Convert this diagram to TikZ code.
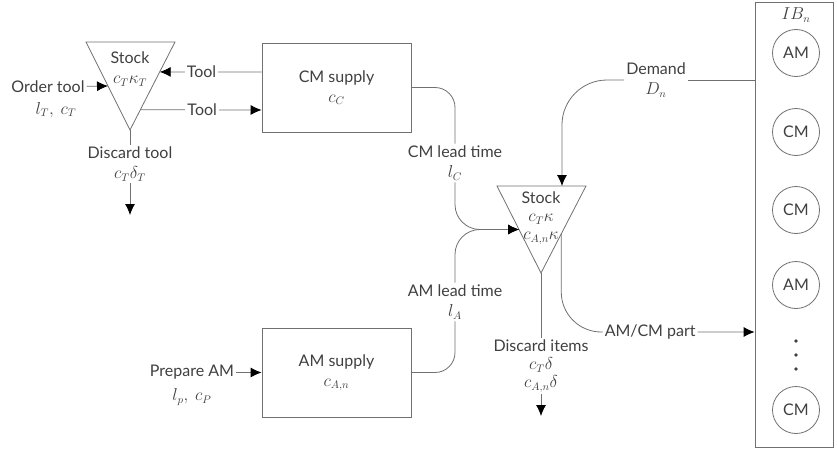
\documentclass[tikz,border=0pt]{standalone}
\usepackage{fontspec}
\setmainfont{Lato}
\usetikzlibrary{arrows.meta,calc}

\definecolor{linegray}{HTML}{707070}
\definecolor{textgray}{HTML}{404040}

\tikzset{
    >={Latex[length=11pt,width=10pt,black]},
    flow/.style={draw=linegray, line width=0.8pt},
    supply/.style={draw=linegray, line width=0.8pt, minimum width=149pt, minimum height=89pt, align=center},
    lbl/.style={align=center, inner sep=2pt},
    unit/.style={circle, draw=linegray, line width=0.8pt, minimum size=47pt, inner sep=0pt},
}

\begin{document}
\begin{tikzpicture}[x=1pt, y=-1pt, font=\fontsize{16}{20}\selectfont, text=textgray]
    \useasboundingbox (0,0) rectangle (837,452);

    % tool stock
    \coordinate (s1l) at (86,42);
    \coordinate (s1r) at (175,42);
    \coordinate (s1b) at (130,130);
    \draw[flow] (s1l) -- (s1r) -- (s1b) -- cycle;
    \node[lbl] (s1name) at (130,69) {Stock\\$c_T\kappa_T$};

    % part stock
    \coordinate (s2l) at (497,186);
    \coordinate (s2r) at (586,186);
    \coordinate (s2b) at (541,273);
    \draw[flow] (s2l) -- (s2r) -- (s2b) -- cycle;
    \node[lbl] (s2name) at (541,218) {Stock\\[-2pt]$c_T\kappa$\\[-2pt]$c_{A,n}\kappa$};
    \coordinate (s2in) at ($(s2l)!0.5!(s2b)$);

    % supply boxes
    \node[supply] (cm) at (336.5,87.5) {CM supply\\$c_C$};
    \node[supply] (am) at (336.5,372.5) {AM supply\\$c_{A,n}$};

    % installed base
    \node[draw=linegray, line width=0.8pt, minimum width=78pt, minimum height=445pt] (ib) at (794,224.5) {};
    \node[lbl] (ibname) at (796,15) {$IB_n$};
    \foreach \y/\kind [count=\i] in {53/AM,132/CM,210/CM,285/AM,410/CM}
        \node[unit] (u\i) at (796,\y) {\kind};
    \foreach \y in {341,355,369}
        \fill[textgray] (796,\y) circle[radius=1.8pt];

    % tools in and out
    \node[lbl] (ordtool) at (48,87) {Order tool};
    \node[lbl] (ordcost) at (56,110) {$l_T,\ c_T$};
    \draw[flow,->] (ordtool) -- ($(s1l)!0.5!(s1b)$);
    \draw[flow,->] (cm.west |- 0,72) -- node[lbl, fill=white, pos=0.59] {Tool} ($(s1r)!0.34!(s1b)$);
    \draw[flow,->] ($(s1r)!0.77!(s1b)$) -- node[lbl, fill=white, pos=0.51] {Tool} (cm.west |- 0,110);

    \node[lbl] (distool) at (130,164) {Discard tool\\$c_T\delta_T$};
    \coordinate (distoolend) at (130,215);
    \draw[flow] (s1b) -- (distool);
    \draw[flow,->] (distool) -- (distoolend);

    % lead times into the part stock
    \node[lbl] (cmlead) at (455,163) {CM lead time\\$l_C$};
    \draw[flow, rounded corners=20] (cm.east) -| (cmlead);
    \draw[flow,->, rounded corners=25] (cmlead) |- (s2in);

    \node[lbl] (amlead) at (455,302) {AM lead time\\$l_A$};
    \draw[flow, rounded corners=20] (am.east) -| (amlead);
    \draw[flow,->, rounded corners=25] (amlead) |- (s2in);

    \node[lbl] (prepam) at (192,372.5) {Prepare AM};
    \node[lbl] (prepcost) at (192,397) {$l_p,\ c_P$};
    \draw[flow,->] (prepam) -- (am);

    % demand and parts
    \node[lbl] (demand) at (656,80) {Demand\\$D_n$};
    \draw[flow] (ib.west |- demand) -- (demand);
    \draw[flow,->, rounded corners=45] (demand) -| ($(s2l)!0.73!(s2r)$);

    \draw[flow,->, rounded corners=40] ($(s2r)!0.55!(s2b)$) |- node[lbl, fill=white, pos=0.73] {AM/CM part} (ib.west |- 0,332);

    \node[lbl] (disitems) at (541,366) {Discard items\\[-2pt]$c_T\delta$\\[-2pt]$c_{A,n}\delta$};
    \coordinate (disitemsend) at (541,416);
    \draw[flow] (s2b) -- (disitems);
    \draw[flow,->] (disitems) -- (disitemsend);
\end{tikzpicture}
\end{document}
